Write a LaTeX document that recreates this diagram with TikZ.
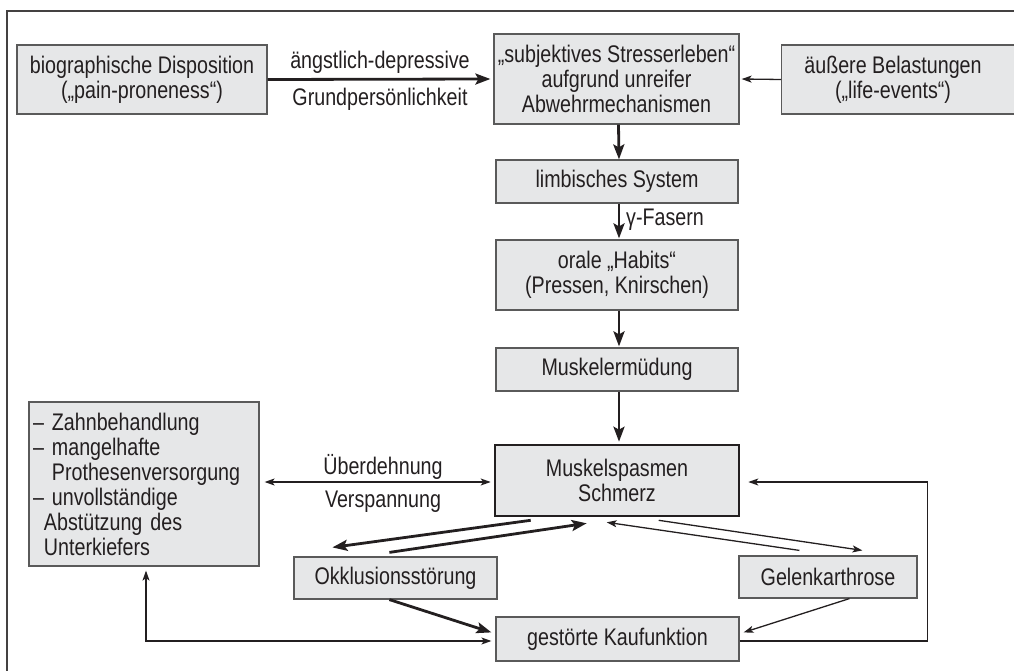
\documentclass[tikz,border=0pt]{standalone}
\usepackage{fontspec}
\setmainfont{Liberation Sans}[FakeStretch=0.82]
\usetikzlibrary{arrows.meta,calc}
\definecolor{boxfill}{HTML}{E6E7E8}
\definecolor{boxline}{HTML}{5A5A5A}
\definecolor{ink}{HTML}{231F20}
\begin{document}
\begin{tikzpicture}[x=1pt,y=-1pt,
  font=\fontsize{24}{25}\selectfont,
  box/.style={draw=boxline,fill=boxfill,line width=1.2pt,rectangle,inner sep=0pt,align=center,text=ink},
  mainbox/.style={box,draw=ink,line width=2.6pt},
  lbl/.style={inner sep=0pt,text=ink,align=center},
  thick arr/.style={draw=ink,line width=2.8pt,-{Stealth[length=15pt,width=11pt,inset=3pt]}},
  thin arr/.style={draw=ink,line width=1.3pt,-{Stealth[length=10pt,width=7pt,inset=2.5pt]}},
  thinboth/.style={draw=ink,line width=1.3pt,{Stealth[length=10pt,width=7pt,inset=2.5pt]}-{Stealth[length=10pt,width=7pt,inset=2.5pt]}},
  frameline/.style={draw=ink!85,line width=1.4pt}]
\useasboundingbox (0,0) rectangle (1014,671);
\begin{scope}
\clip (0,0) rectangle (1014,671);
% frame
\coordinate (fbl) at (7,680);
\coordinate (ftl) at (7,11);
\coordinate (ftr) at (1030,11);
\draw[frameline] (fbl) -- (ftl) -- (ftr);
% boxes
\node[box,minimum width=250pt,minimum height=69pt] (bio) at (142,79.5) {biographische Disposition\\(„pain-proneness“)};
\node[box,minimum width=245pt,minimum height=90pt] (subj) at (616.5,79) {„subjektives Stresserleben“\\aufgrund unreifer\\Abwehrmechanismen};
\node[box,minimum width=260pt,minimum height=69pt,anchor=west] (aeuss) at (781,79.5) {};
\node[lbl] (aeusstext) at (893,79.5) {äußere Belastungen\\(„life-events“)};
\node[box,minimum width=242pt,minimum height=43pt] (limb) at (617,181.5) {limbisches System};
\node[box,minimum width=242pt,minimum height=70pt] (orale) at (617,275) {orale „Habits“\\(Pressen, Knirschen)};
\node[box,minimum width=242pt,minimum height=43pt] (muede) at (617,369.5) {Muskelermüdung};
\node[mainbox,minimum width=244pt,minimum height=71pt] (spasm) at (617,480.5) {Muskelspasmen\\Schmerz};
\node[box,minimum width=230pt,minimum height=164pt,align=left,text width=222pt] (left) at (144,484)
  {\textendash\ Zahnbehandlung\\\textendash\ mangelhafte\\\hphantom{\textendash\ }Prothesenversorgung\\\textendash\ unvollständige\\\hphantom{\textendash}Abstützung des\\\hphantom{\textendash}Unterkiefers};
\node[box,minimum width=203pt,minimum height=42pt] (okkl) at (395.5,578) {Okklusionsstörung};
\node[box,minimum width=178pt,minimum height=42pt] (gelenk) at (828,577) {Gelenkarthrose};
\node[box,minimum width=243pt,minimum height=44pt] (kauf) at (617.5,639) {gestörte Kaufunktion};
% labels
\node[lbl] (l1) at (380,62) {ängstlich-depressive};
\node[lbl] (l2) at (380,99) {Grundpersönlichkeit};
\node[lbl,anchor=west] (l3) at (626,220) {γ-Fasern};
\node[lbl] (l4) at (383,467) {Überdehnung};
\node[lbl] (l5) at (383,502) {Verspannung};
% connectors
\draw[thick arr] (bio.east) -- ($(subj.west)+(-3,0)$);
\draw[thin arr] (aeuss.west) -- ($(subj.east)+(2,0)$);
\draw[thick arr] ($(subj.south)+(2,0)$) -- ($(limb.north)+(2,0)$);
\draw[thick arr] ($(limb.south)+(2,0)$) -- ($(orale.north)+(2,-1)$);
\draw[thick arr] ($(orale.south)+(2,0)$) -- ($(muede.north)+(2,-1)$);
\draw[thick arr] ($(muede.south)+(2,0)$) -- ($(spasm.north)+(2,-2)$);
\draw[thinboth] ($(left.east)+(5,-2)$) -- ($(spasm.west)+(-3,1.5)$);
\draw[thick arr] ($(spasm.south west)+(37,3)$) -- ($(okkl.north west)+(39,-9)$);
\draw[thick arr] ($(okkl.north west)+(96,-4)$) -- ($(spasm.south west)+(93,6)$);
\draw[thin arr] ($(gelenk.north west)+(61,-5)$) -- ($(spasm.south west)+(113,5)$);
\draw[thin arr] ($(spasm.south west)+(165,3)$) -- ($(gelenk.north west)+(124,-5)$);
\draw[thick arr] ($(okkl.south west)+(96,0)$) -- ($(kauf.north west)+(-4,16)$);
\draw[thin arr] ($(gelenk.south west)+(111,0)$) -- ($(kauf.north east)+(4,16)$);
\draw[thinboth] ($(kauf.west)+(-4,2)$) -| ($(left.south)+(2,4)$);
\draw[thin arr] ($(kauf.east)+(0,2)$) -- ++(188,0) |- ($(spasm.east)+(8,1.5)$);
\end{scope}
\end{tikzpicture}
\end{document}
